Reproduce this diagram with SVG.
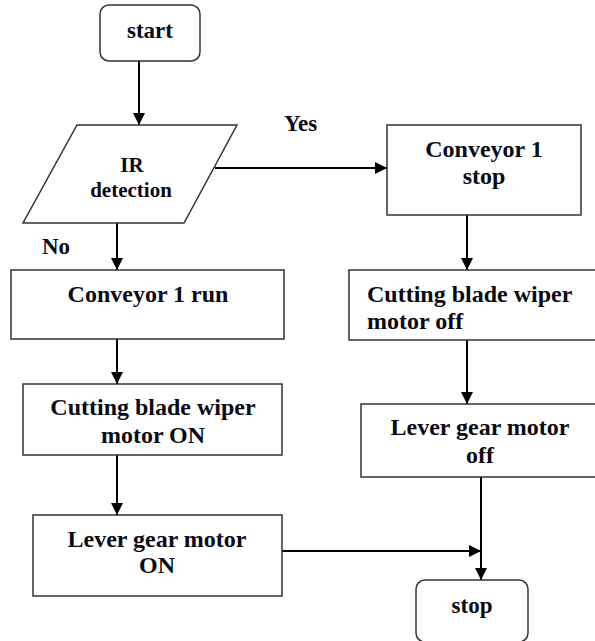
<svg xmlns="http://www.w3.org/2000/svg" width="595" height="641" viewBox="0 0 595 641">
<style>
.box{fill:#fff;stroke:#333;stroke-width:1.5}
.t{font-family:"Liberation Serif","Times New Roman",serif;font-weight:bold;font-size:24px;fill:#0a0a14}
.s{font-size:21px}
.c{text-anchor:middle}
.ln{stroke:#000;stroke-width:2;fill:none}
</style>
<defs>
<marker id="ah" markerWidth="12" markerHeight="12" refX="12" refY="6" orient="auto" markerUnits="userSpaceOnUse">
<path d="M0,0 L12,6 L0,12 Z" fill="#000"/>
</marker>
</defs>
<rect width="595" height="641" fill="#fff"/>
<g id="connectors">
<line class="ln" x1="139" y1="61" x2="139" y2="125" marker-end="url(#ah)"/>
<line class="ln" x1="215" y1="168" x2="387" y2="168" marker-end="url(#ah)"/>
<line class="ln" x1="117" y1="223" x2="117" y2="270" marker-end="url(#ah)"/>
<line class="ln" x1="467" y1="215" x2="467" y2="270" marker-end="url(#ah)"/>
<line class="ln" x1="117" y1="339" x2="117" y2="384" marker-end="url(#ah)"/>
<line class="ln" x1="467" y1="340" x2="467" y2="404" marker-end="url(#ah)"/>
<line class="ln" x1="117" y1="455" x2="117" y2="515" marker-end="url(#ah)"/>
<line class="ln" x1="481" y1="477" x2="481" y2="580" marker-end="url(#ah)"/>
<line class="ln" x1="282" y1="551" x2="481" y2="551" marker-end="url(#ah)"/>
<text class="t s" x="284" y="131" style="font-size:23px">Yes</text>
<text class="t" x="42" y="254" style="font-size:23px">No</text>
</g>
<g id="start">
<rect class="box" x="100" y="5" width="100" height="56" rx="9"/>
<text class="t c" x="150" y="38" style="font-size:23px">start</text>
</g>
<g id="ir">
<polygon class="box" points="77,125 237,125 184,223 23,223"/>
<text class="t s c" x="132" y="172">IR</text>
<text class="t s c" x="131" y="197">detection</text>
</g>
<g id="conv-stop">
<rect class="box" x="387" y="125" width="194" height="90"/>
<text class="t c" x="484" y="157">Conveyor 1</text>
<text class="t c" x="484" y="184">stop</text>
</g>
<g id="conv-run">
<rect class="box" x="11" y="270" width="273" height="69"/>
<text class="t c" x="148" y="302">Conveyor 1 run</text>
</g>
<g id="blade-off">
<rect class="box" x="349" y="270" width="260" height="70"/>
<text class="t" x="367" y="302">Cutting blade wiper</text>
<text class="t" x="367" y="329">motor off</text>
</g>
<g id="blade-on">
<rect class="box" x="23" y="384" width="259" height="71"/>
<text class="t c" x="153" y="415">Cutting blade wiper</text>
<text class="t c" x="153" y="443">motor ON</text>
</g>
<g id="lever-off">
<rect class="box" x="361" y="404" width="250" height="73"/>
<text class="t c" x="480" y="435">Lever gear motor</text>
<text class="t c" x="480" y="463">off</text>
</g>
<g id="lever-on">
<rect class="box" x="33" y="515" width="249" height="81"/>
<text class="t c" x="157" y="547">Lever gear motor</text>
<text class="t c" x="157" y="573">ON</text>
</g>
<g id="stop">
<rect class="box" x="416" y="580" width="112" height="62" rx="9"/>
<text class="t c" x="472" y="613" style="font-size:23px">stop</text>
</g>
</svg>
